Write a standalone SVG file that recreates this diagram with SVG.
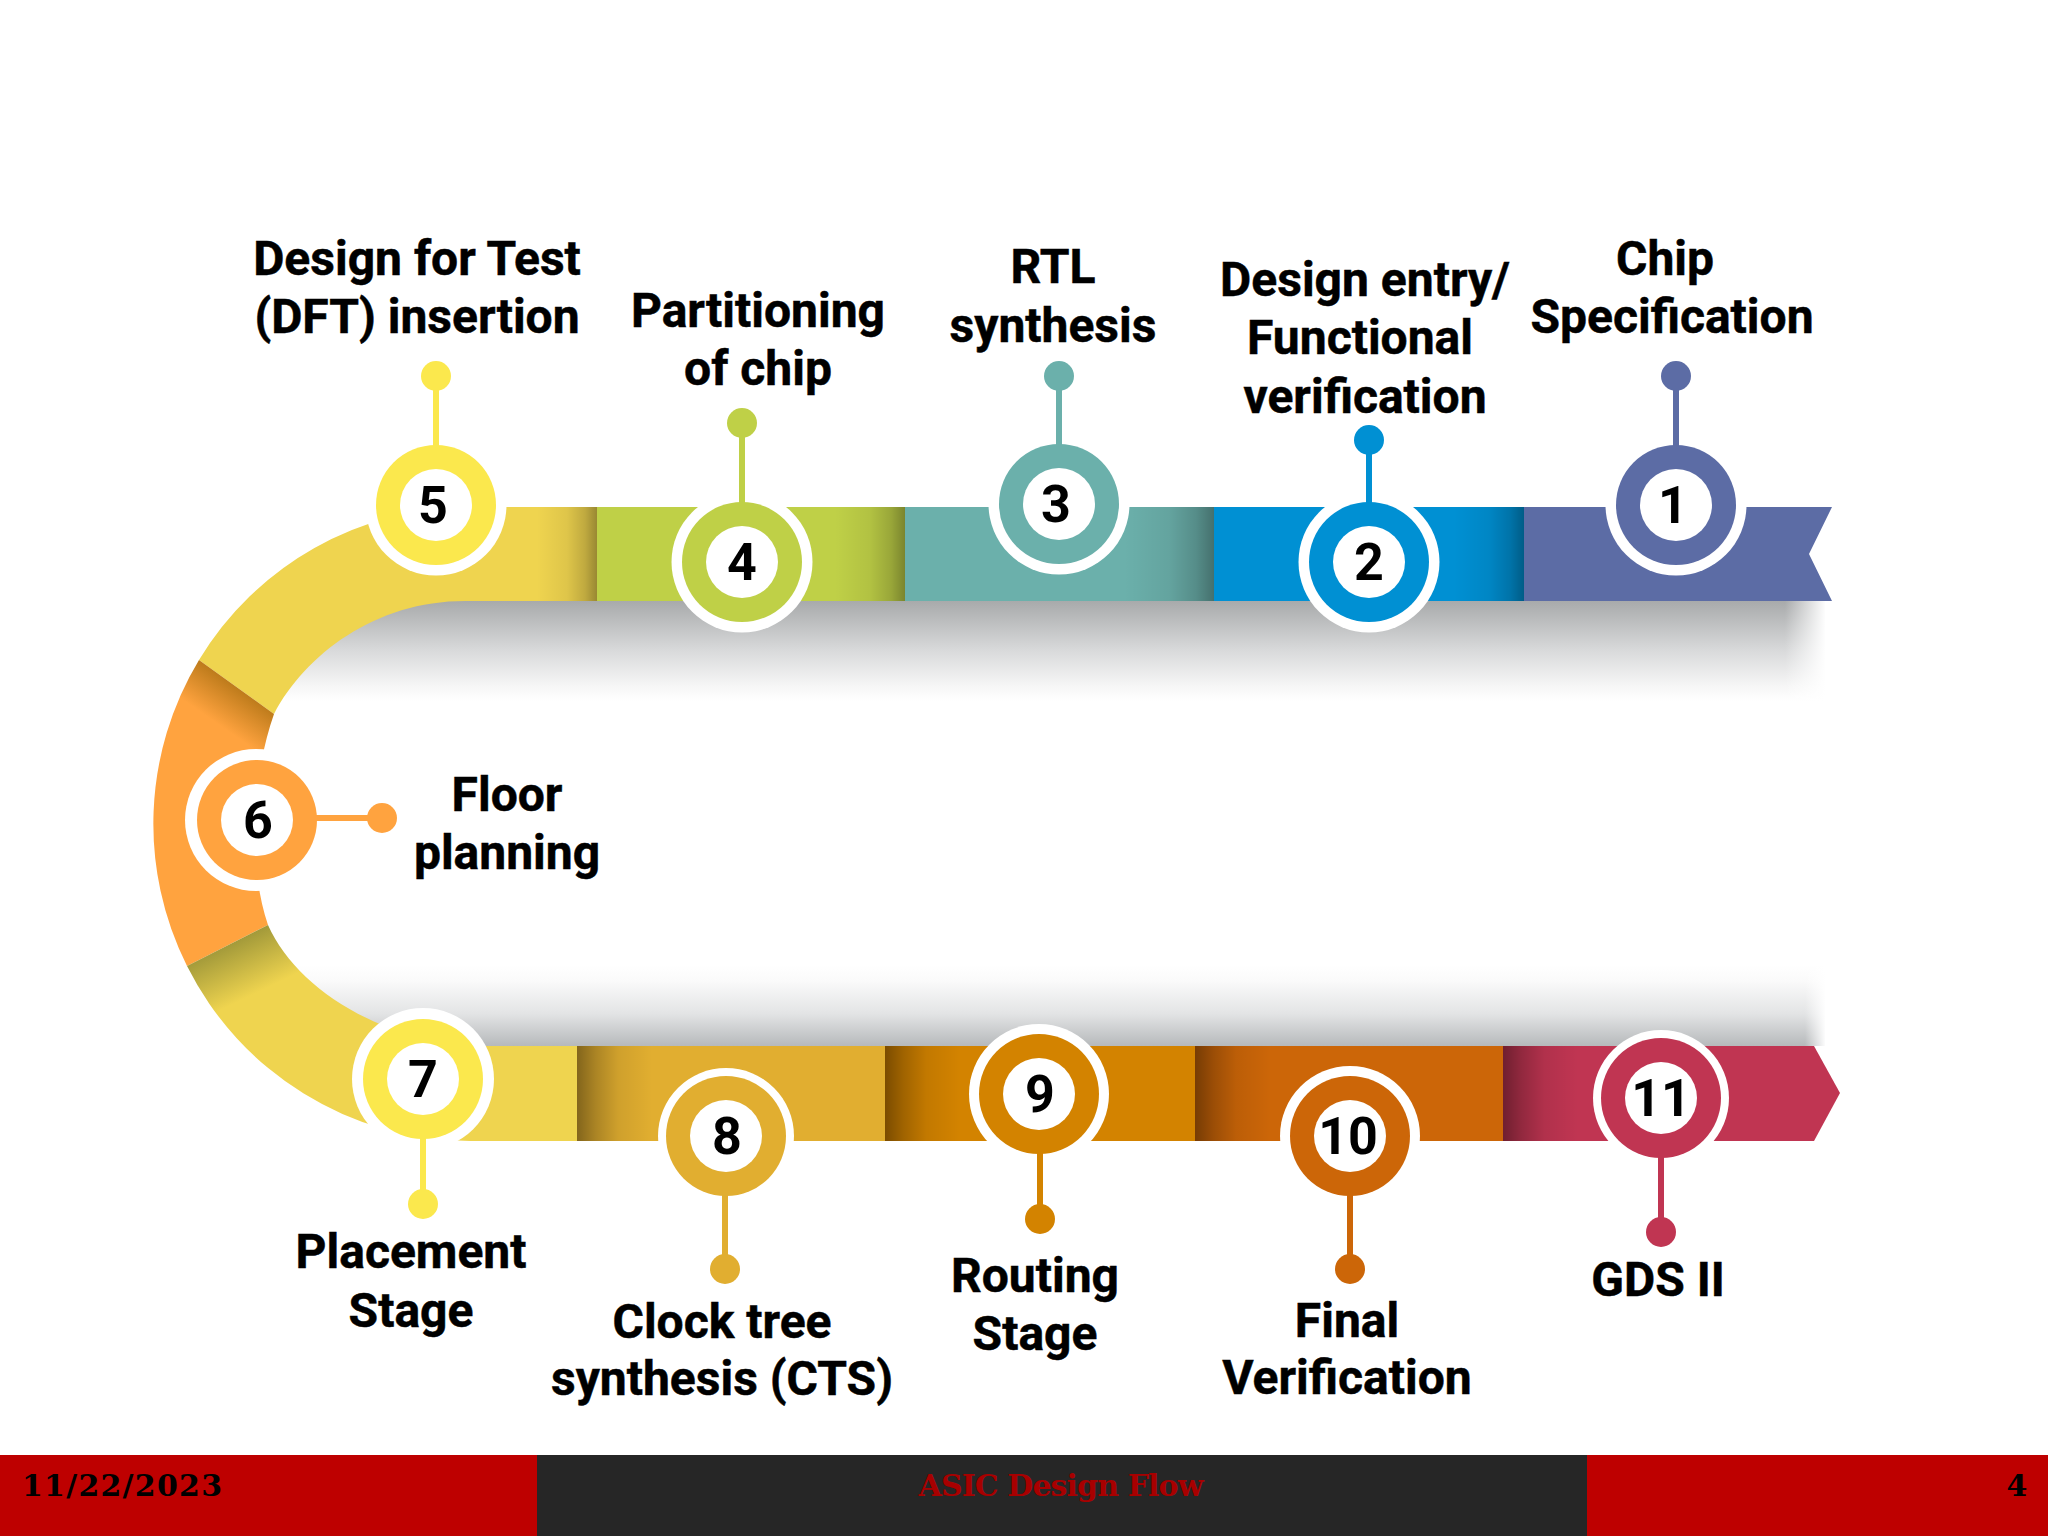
<svg xmlns="http://www.w3.org/2000/svg" width="2048" height="1536" viewBox="0 0 2048 1536">
<style>
text{font-family:Roboto,"Liberation Sans",sans-serif;font-weight:700;fill:#000;text-anchor:middle}
.l{font-size:48px;stroke:#000;stroke-width:.5}
.n{font-size:52px}
.f{font-family:"DejaVu Serif","Liberation Serif",serif;font-size:30px}
.halo{fill:#fff}
.hole{fill:#fff}
line{stroke-width:6}
</style>
<defs>
<linearGradient id="shR" x1="0" x2="1" y1="0" y2="0"><stop offset="0" stop-color="#000" stop-opacity="0"/><stop offset=".5" stop-color="#000" stop-opacity=".07"/><stop offset=".8" stop-color="#000" stop-opacity=".2"/><stop offset="1" stop-color="#000" stop-opacity=".36"/></linearGradient>
<linearGradient id="shL" x1="0" x2="1" y1="0" y2="0"><stop offset="0" stop-color="#000" stop-opacity=".42"/><stop offset=".25" stop-color="#000" stop-opacity=".24"/><stop offset=".55" stop-color="#000" stop-opacity=".08"/><stop offset="1" stop-color="#000" stop-opacity="0"/></linearGradient>
<linearGradient id="shadowTop" x1="0" x2="0" y1="0" y2="1"><stop offset="0" stop-color="#a8aaab"/><stop offset=".5" stop-color="#d9dadb"/><stop offset=".85" stop-color="#f6f6f6"/><stop offset="1" stop-color="#fff"/></linearGradient>
<linearGradient id="shadowBot" x1="0" x2="0" y1="1" y2="0"><stop offset="0" stop-color="#b6b9bb"/><stop offset=".4" stop-color="#e3e4e5"/><stop offset=".8" stop-color="#fafafa"/><stop offset="1" stop-color="#fff"/></linearGradient>
<linearGradient id="fade" x1="0" x2="1" y1="0" y2="0"><stop offset="0" stop-color="#fff" stop-opacity="0"/><stop offset="1" stop-color="#fff"/></linearGradient>
<linearGradient id="orangeArc" gradientUnits="userSpaceOnUse" x1="235" y1="687" x2="212" y2="720"><stop offset="0" stop-color="#bf7c1c"/><stop offset="1" stop-color="#ffa33f"/></linearGradient>
<linearGradient id="yellowArc" gradientUnits="userSpaceOnUse" x1="228" y1="945" x2="252" y2="995"><stop offset="0" stop-color="#a39a3a"/><stop offset="1" stop-color="#efd44f"/></linearGradient>
</defs>

<g id="shadows">
<rect x="285" y="601" width="1540" height="100" fill="url(#shadowTop)"/>
<rect x="285" y="965" width="1540" height="81" fill="url(#shadowBot)"/>
<rect x="1785" y="601" width="41" height="100" fill="url(#fade)"/>
<rect x="1805" y="965" width="21" height="81" fill="url(#fade)"/>
</g>

<g id="band">
<path d="M597,507H470A317,317 0 0 0 199,660L274,714C305,655 375,601 465,601H597Z" fill="#efd44f"/>
<path d="M199,660A317,317 0 0 0 187,966L268,925C246,860 254,770 274,714Z" fill="url(#orangeArc)"/>
<path d="M187,966A317,317 0 0 0 470,1141H577V1046H465C370,1035 295,985 268,925Z" fill="url(#yellowArc)"/>
<rect x="537" y="507" width="60" height="94" fill="url(#shR)"/>
<rect x="597" y="507" width="308" height="94" fill="#bfd047"/>
<rect x="835" y="507" width="70" height="94" fill="url(#shR)"/>
<rect x="905" y="507" width="309" height="94" fill="#6bb0ab"/>
<rect x="1124" y="507" width="90" height="94" fill="url(#shR)"/>
<rect x="1214" y="507" width="310" height="94" fill="#0090d3"/>
<rect x="1454" y="507" width="70" height="94" fill="url(#shR)"/>
<path d="M1524,507H1832L1809,554L1832,601H1524Z" fill="#5c6ca5"/>
<rect x="577" y="1046" width="308" height="95" fill="#e1ae30"/>
<rect x="577" y="1046" width="75" height="95" fill="url(#shL)"/>
<rect x="885" y="1046" width="310" height="95" fill="#d38300"/>
<rect x="885" y="1046" width="75" height="95" fill="url(#shL)"/>
<rect x="1195" y="1046" width="308" height="95" fill="#cc6608"/>
<rect x="1195" y="1046" width="75" height="95" fill="url(#shL)"/>
<path d="M1503,1046H1814L1840,1093L1814,1141H1503Z" fill="#c03552"/>
<rect x="1503" y="1046" width="75" height="95" fill="url(#shL)"/>
</g>

<g id="node1" fill="#5c6ca5"><circle class="halo" cx="1676" cy="505" r="70.5"/><circle cx="1676" cy="505" r="60"/><circle class="hole" cx="1676" cy="505" r="36"/><circle cx="1676" cy="376" r="15"/><text class="n" x="1673" y="523">1</text><text class="l" x="1665" y="275">Chip</text><text class="l" x="1672" y="333">Specification</text></g>
<g id="node2" fill="#0090d3"><circle class="halo" cx="1369" cy="562" r="70.5"/><circle cx="1369" cy="562" r="60"/><circle class="hole" cx="1369" cy="562" r="36"/><circle cx="1369" cy="440" r="15"/><text class="n" x="1369" y="580">2</text><text class="l" x="1365" y="296">Design entry/</text><text class="l" x="1360" y="354">Functional</text><text class="l" x="1365" y="413">verification</text></g>
<g id="node3" fill="#6bb0ab"><circle class="halo" cx="1059" cy="504" r="70.5"/><circle cx="1059" cy="504" r="60"/><circle class="hole" cx="1059" cy="504" r="36"/><circle cx="1059" cy="376" r="15"/><text class="n" x="1056" y="522">3</text><text class="l" x="1053" y="283">RTL</text><text class="l" x="1053" y="342">synthesis</text></g>
<g id="node4" fill="#bfd047"><circle class="halo" cx="742" cy="562" r="70.5"/><circle cx="742" cy="562" r="60"/><circle class="hole" cx="742" cy="562" r="36"/><circle cx="742" cy="423" r="15"/><text class="n" x="742" y="580">4</text><text class="l" x="758" y="327">Partitioning</text><text class="l" x="758" y="385">of chip</text></g>
<g id="node5" fill="#fbe84d"><circle class="halo" cx="436" cy="505" r="70.5"/><circle cx="436" cy="505" r="60"/><circle class="hole" cx="436" cy="505" r="36"/><circle cx="436" cy="376" r="15"/><text class="n" x="433" y="523">5</text><text class="l" x="417" y="275">Design for Test</text><text class="l" x="417" y="333">(DFT) insertion</text></g>
<g id="node6" fill="#ffa33f"><circle class="halo" cx="256" cy="820" r="71"/><circle cx="257" cy="820" r="60"/><circle class="hole" cx="257" cy="820" r="36"/><circle cx="382" cy="818" r="15"/><text class="n" x="258" y="838">6</text><text class="l" x="507" y="811">Floor</text><text class="l" x="507" y="869">planning</text></g>
<g id="node7" fill="#fbe84d"><circle class="halo" cx="423" cy="1079" r="71"/><circle cx="423" cy="1079" r="60"/><circle class="hole" cx="423" cy="1079" r="36"/><circle cx="423" cy="1204" r="15"/><text class="n" x="423" y="1097">7</text><text class="l" x="411" y="1268">Placement</text><text class="l" x="411" y="1327">Stage</text></g>
<g id="node8" fill="#e1ae30"><circle class="halo" cx="726" cy="1136" r="68"/><circle cx="726" cy="1136" r="60"/><circle class="hole" cx="726" cy="1136" r="36"/><circle cx="725" cy="1269" r="15"/><text class="n" x="727" y="1154">8</text><text class="l" x="722" y="1338">Clock tree</text><text class="l" x="722" y="1395">synthesis (CTS)</text></g>
<g id="node9" fill="#d38300"><circle class="halo" cx="1039" cy="1094" r="70"/><circle cx="1039" cy="1094" r="60"/><circle class="hole" cx="1039" cy="1094" r="36"/><circle cx="1040" cy="1219" r="15"/><text class="n" x="1040" y="1112">9</text><text class="l" x="1035" y="1292">Routing</text><text class="l" x="1035" y="1350">Stage</text></g>
<g id="node10" fill="#cc6608"><circle class="halo" cx="1350" cy="1136" r="70"/><circle cx="1350" cy="1136" r="60"/><circle class="hole" cx="1350" cy="1136" r="36"/><circle cx="1350" cy="1269" r="15"/><text class="n" x="1348" y="1154">10</text><text class="l" x="1347" y="1337">Final</text><text class="l" x="1347" y="1394">Verification</text></g>
<g id="node11" fill="#c03552"><circle class="halo" cx="1661" cy="1098" r="68"/><circle cx="1661" cy="1098" r="60"/><circle class="hole" cx="1661" cy="1098" r="36"/><circle cx="1661" cy="1232" r="15"/><text class="n" x="1661" y="1116">11</text><text class="l" x="1658" y="1296">GDS II</text></g>

<g id="connectors">
<line x1="1676" y1="376" x2="1676" y2="450" stroke="#5c6ca5"/>
<line x1="1369" y1="440" x2="1369" y2="507" stroke="#0090d3"/>
<line x1="1059" y1="376" x2="1059" y2="449" stroke="#6bb0ab"/>
<line x1="742" y1="423" x2="742" y2="507" stroke="#bfd047"/>
<line x1="436" y1="376" x2="436" y2="450" stroke="#fbe84d"/>
<line x1="382" y1="818" x2="312" y2="818" stroke="#ffa33f"/>
<line x1="423" y1="1204" x2="423" y2="1134" stroke="#fbe84d"/>
<line x1="725" y1="1269" x2="725" y2="1191" stroke="#e1ae30"/>
<line x1="1040" y1="1219" x2="1040" y2="1149" stroke="#d38300"/>
<line x1="1350" y1="1269" x2="1350" y2="1191" stroke="#cc6608"/>
<line x1="1661" y1="1232" x2="1661" y2="1153" stroke="#c03552"/>
</g>

<g id="footer">
<rect x="0" y="1455" width="2048" height="81" fill="#be0000"/>
<rect x="537" y="1455" width="1050" height="81" fill="#262626"/>
<text class="f" x="122" y="1496" textLength="200">11/22/2023</text>
<text class="f" x="1061" y="1496" textLength="285" style="fill:#a80000">ASIC Design Flow</text>
<text class="f" x="2017" y="1496">4</text>
</g>
</svg>
